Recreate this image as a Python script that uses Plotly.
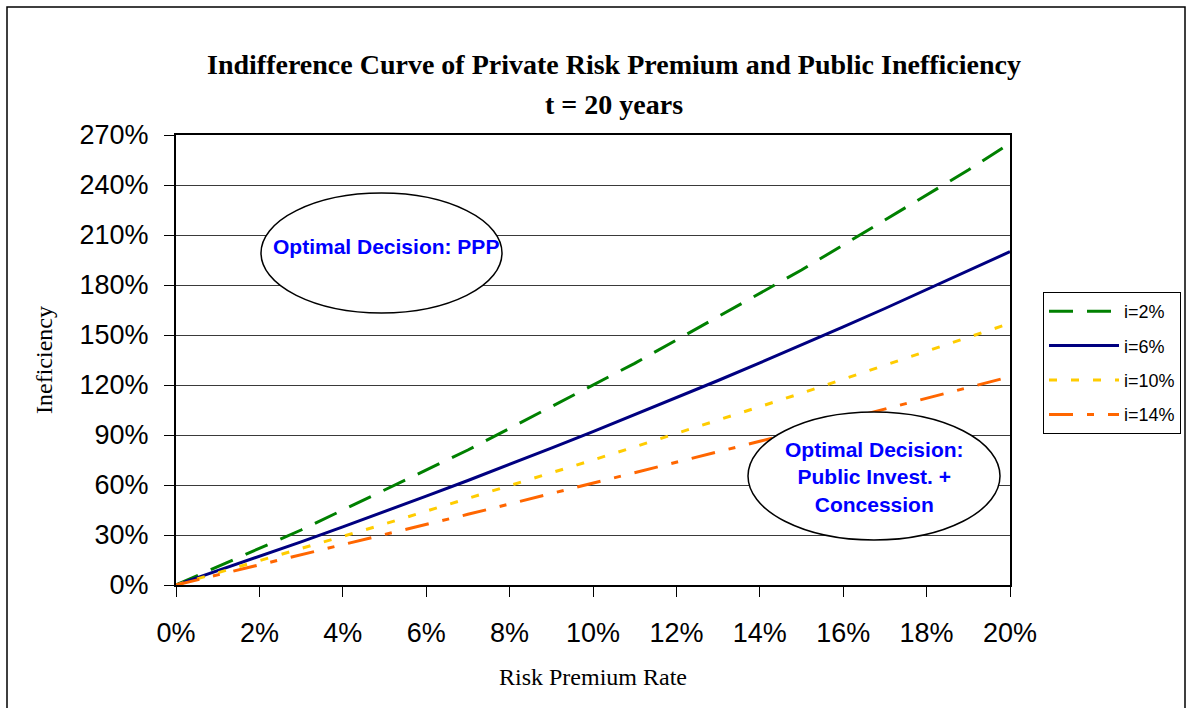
import plotly.graph_objects as go

# Data (percent values)
risk_premium = list(range(0, 21))  # Risk premium rate, %
ineff_i2 = [0, 11, 22, 33, 45, 57, 69, 81, 94, 107, 120, 133, 147, 161, 175, 189, 204, 219, 234, 249, 265]
ineff_i6 = [0, 8.5, 17.1, 25.9, 34.9, 44, 53.3, 62.7, 72.3, 82.1, 92, 102.1, 112.3, 122.7, 133.3, 144, 154.9, 165.9, 177.1, 188.5, 200]
ineff_i10 = [0, 7.2, 14.4, 21.8, 29.2, 36.6, 44.2, 51.8, 59.4, 67.2, 75, 82.9, 90.8, 98.9, 107, 115.1, 123.4, 131.7, 140, 148.5, 157]
ineff_i14 = [0, 6, 12, 18, 24, 30.1, 36.2, 42.4, 48.6, 54.8, 61, 67.3, 73.6, 79.9, 86.2, 92.6, 99, 105.5, 112, 118.5, 125]
series_names = ["i=2%", "i=6%", "i=10%", "i=14%"]

x_ticks = list(range(0, 21, 2))
y_ticks = list(range(0, 271, 30))

x = [v / 100 for v in risk_premium]
series = [ineff_i2, ineff_i6, ineff_i10, ineff_i14]
styles = [
    dict(color="#008000", width=3, dash="24px,14px"),
    dict(color="#000080", width=3, dash="solid"),
    dict(color="#FFCC00", width=3, dash="8px,14px"),
    dict(color="#FF6600", width=3, dash="24px,14px,7px,14px"),
]

fig = go.Figure()
for name, vals, st in zip(series_names, series, styles):
    fig.add_trace(go.Scatter(
        x=x, y=[v / 100 for v in vals], mode="lines", name=name,
        line=st, legendgroup=name,
    ))

L, R, T, B = 176, 182, 135, 123
W, H = 1192, 708
pw = W - L - R
ph = H - T - B

def px_x(p):
    return (p - L) / pw

def px_y(p):
    return (H - B - p) / ph

SERIF = "Liberation Serif, Times New Roman, serif"
SANS = "Liberation Sans, Arial, sans-serif"

fig.update_layout(
    width=W, height=H,
    margin=dict(l=L, r=R, t=T, b=B, autoexpand=False),
    paper_bgcolor="white", plot_bgcolor="white",
    font=dict(family=SANS, color="black"),
    showlegend=True,
    legend=dict(
        x=px_x(1043), y=px_y(292), xanchor="left", yanchor="top",
        bordercolor="black", borderwidth=1, bgcolor="white",
        font=dict(family=SANS, size=18, color="black"),
        tracegroupgap=8, itemwidth=70,
    ),
    xaxis=dict(
        range=[0, 0.2], tickvals=[v / 100 for v in x_ticks],
        ticktext=[f"{v}%" for v in x_ticks],
        showline=True, linecolor="black", linewidth=2, mirror=True,
        ticks="outside", ticklen=10, tickcolor="black", tickwidth=1,
        tickfont=dict(size=27, family=SANS),
        showgrid=False, zeroline=False,
        title=dict(text="Risk Premium Rate", font=dict(family=SERIF, size=24), standoff=21),
        ticklabelstandoff=13,
    ),
    yaxis=dict(
        range=[0, 2.7], tickvals=[v / 100 for v in y_ticks],
        ticktext=[f"{v}%" for v in y_ticks],
        showline=True, linecolor="black", linewidth=2, mirror=True,
        ticks="outside", ticklen=10, tickcolor="black", tickwidth=1,
        tickfont=dict(size=27, family=SANS),
        showgrid=True, gridcolor="#3a3a3a", gridwidth=1, zeroline=False,
        title=dict(text="Ineficiency", font=dict(family=SERIF, size=24), standoff=20),
        ticklabelstandoff=10,
    ),
)

# Title lines
fig.add_annotation(text="<b>Indifference Curve of Private Risk Premium and Public Inefficiency</b>",
                   xref="paper", yref="paper", x=px_x(614), y=px_y(47), showarrow=False,
                   font=dict(family=SERIF, size=28, color="black"))
fig.add_annotation(text="<b>t = 20 years</b>",
                   xref="paper", yref="paper", x=px_x(614), y=px_y(87), showarrow=False,
                   font=dict(family=SERIF, size=28, color="black"))

# Ellipses
def dx(p):
    return (p - L) / pw * 0.2

def dy(p):
    return (H - B - p) / ph * 2.7

fig.add_shape(type="circle", xref="x", yref="y", x0=dx(261), x1=dx(502), y0=dy(313), y1=dy(193),
              fillcolor="white", line=dict(color="black", width=1.5), layer="above")
fig.add_shape(type="circle", xref="x", yref="y", x0=dx(748), x1=dx(1000), y0=dy(540), y1=dy(412),
              fillcolor="white", line=dict(color="black", width=1.5), layer="above")
fig.add_annotation(text="<b>Optimal Decision: PPP</b>", xref="x", yref="y", x=dx(386), y=dy(246),
                   showarrow=False, font=dict(family=SANS, size=21, color="#0000FF"))
fig.add_annotation(text="<b>Optimal Decision:<br>Public Invest. +<br>Concession</b>", xref="x", yref="y",
                   x=dx(874), y=dy(477), showarrow=False, align="center",
                   font=dict(family=SANS, size=21, color="#0000FF"))

# Outer chart border
fig.add_shape(type="rect", xref="paper", yref="paper", x0=px_x(7), x1=px_x(1185), y0=px_y(712), y1=px_y(7),
              line=dict(color="black", width=1.5), fillcolor="rgba(0,0,0,0)", layer="below")

fig.write_html("out.html", config={"displayModeBar": False},
               post_script="document.body.style.margin='0';")
